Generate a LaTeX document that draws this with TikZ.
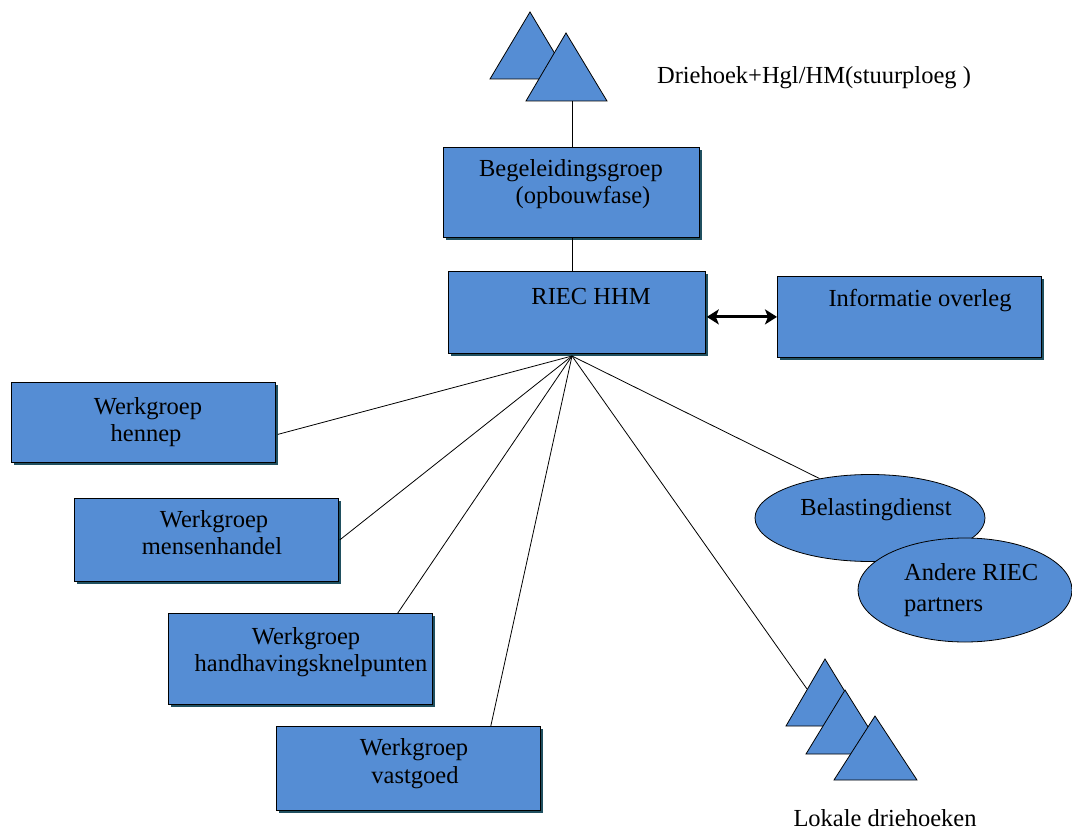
\documentclass[tikz,border=0pt]{standalone}
\usepackage{fontspec}
\setmainfont{Liberation Serif}
\usetikzlibrary{shapes.geometric,arrows.meta,calc,shadows}
\definecolor{boxblue}{RGB}{85,141,212}
\definecolor{shadecol}{RGB}{32,80,96}
\begin{document}
\begin{tikzpicture}[x=1pt,y=-1pt,
  box/.style={rectangle, draw=black, fill=boxblue, line width=0.8pt, inner sep=0pt, anchor=north west,
    drop shadow={shadow xshift=3pt, shadow yshift=-3pt, fill=shadecol, opacity=1}},
  oval/.style={ellipse, draw=black, fill=boxblue, line width=0.8pt, inner sep=0pt},
  tri/.style={draw=black, fill=boxblue, line width=0.8pt, line join=miter},
  txt/.style={font=\fontsize{24.5}{27}\selectfont, anchor=base, inner sep=0pt},
  link/.style={draw=black, line width=0.8pt}]
\useasboundingbox (0,0) rectangle (1072,832);

% boxes
\node[box, minimum width=256pt, minimum height=90pt] (beg) at (443,147) {};
\node[box, minimum width=257pt, minimum height=82pt] (riec) at (448,271) {};
\node[box, minimum width=264pt, minimum height=81pt] (info) at (777,276) {};
\node[box, minimum width=264pt, minimum height=80pt] (hennep) at (11,382) {};
\node[box, minimum width=264pt, minimum height=83pt] (mensen) at (74,498) {};
\node[box, minimum width=264pt, minimum height=91pt] (handh) at (168,613) {};
\node[box, minimum width=264pt, minimum height=84pt] (vast) at (276,726) {};

% ellipses
\node[oval, minimum width=230pt, minimum height=87pt] (belast) at (870,518) {};
\node[oval, minimum width=214pt, minimum height=104pt] (andere) at (965,590) {};

% top triangles
\draw[tri] (530,12) -- (490,79) -- (570,79) -- cycle;
\draw[tri] (566,33) -- (526,101) -- (607,101) -- cycle;
\coordinate (ttop) at (572,101);

% local triangles
\draw[tri] (825,659) -- (786,726) -- (866,726) -- cycle;
\draw[tri] (845,690) -- (806,754) -- (885,754) -- cycle;
\draw[tri] (875,716) -- (834,780) -- (917,780) -- cycle;
\coordinate (lok) at (807,689);

% hub
\coordinate (hub) at (572,356);

% connectors
\draw[link] (beg.north -| ttop) -- (ttop);
\draw[link] (beg.south -| ttop) -- (riec.north -| ttop);
\draw[link] (hub) -- ($(hennep.east)+(2,12)$);
\draw[link] (hub) -- ($(mensen.east)+(1,0)$);
\draw[link] (hub) -- ($(handh.north east)+(-35,0)$);
\draw[link] (hub) -- ($(vast.north east)+(-50,0)$);
\draw[link] (hub) -- (belast.142);
\draw[link] (hub) -- (lok);
\draw[line width=3pt, {Stealth[length=12pt,width=15pt,inset=3pt]}-{Stealth[length=12pt,width=15pt,inset=3pt]}]
  ($(info.west -| riec.east)+(1,0)$) -- (info.west);

% texts
\node[txt] (t1) at (571,177) {Begeleidingsgroep};
\node[txt] (t2) at (583,204) {(opbouwfase)};
\node[txt] (t3) at (591,304) {RIEC HHM};
\node[txt] (t4) at (920,306) {Informatie overleg};
\node[txt] (t5) at (148,414) {Werkgroep};
\node[txt] (t6) at (146,441) {hennep};
\node[txt] (t7) at (214,527) {Werkgroep};
\node[txt] (t8) at (212,554) {mensenhandel};
\node[txt] (t9) at (306,644) {Werkgroep};
\node[txt] (t10) at (311,671) {handhavingsknelpunten};
\node[txt] (t11) at (414,755) {Werkgroep};
\node[txt] (t12) at (415,783) {vastgoed};
\node[txt] (t13) at (876,515) {Belastingdienst};
\node[txt, anchor=base west] (t14) at (904,580) {Andere RIEC};
\node[txt, anchor=base west] (t15) at (904,611) {partners};
\node[txt] (t16) at (814,84) {Driehoek+Hgl/HM(stuurploeg )};
\node[txt] (t17) at (885,826) {Lokale driehoeken};
\end{tikzpicture}
\end{document}
